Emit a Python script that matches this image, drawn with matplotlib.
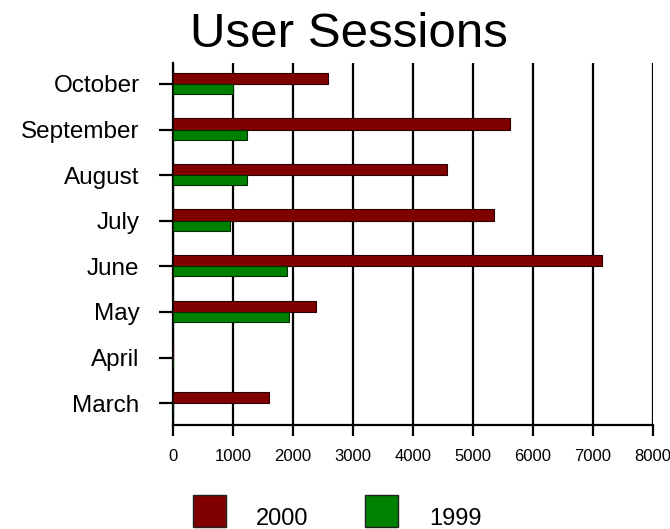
import matplotlib.pyplot as plt
import matplotlib.transforms as mtransforms
from matplotlib.patches import Rectangle
import numpy as np

# data
months = ["March", "April", "May", "June", "July", "August", "September", "October"]
sessions_2000 = [1600, 0, 2380, 7150, 5350, 4570, 5620, 2580]
sessions_1999 = [0, 0, 1930, 1900, 950, 1230, 1230, 1000]
xticks = [0, 1000, 2000, 3000, 4000, 5000, 6000, 7000, 8000]

red = "#800000"
green = "#008000"

plt.rcParams["font.family"] = ["Liberation Sans", "DejaVu Sans"]

fig = plt.figure(figsize=(6.7, 5.29), dpi=100)
ax = fig.add_axes([173 / 670, 1 - 425 / 529, (653 - 173) / 670, (425 - 63) / 529])

y = np.arange(len(months))
h_red = 0.25
h_green = 0.22
ax.barh(y + h_red / 2, sessions_2000, height=h_red, color=red,
        edgecolor="#2a0000", linewidth=0.8, zorder=3)
ax.barh(y - h_green / 2, sessions_1999, height=h_green, color=green,
        edgecolor="#002a00", linewidth=0.8, zorder=3)

ax.set_xlim(0, 8000)
ax.set_ylim(-0.48, 7.46)
ax.set_xticks(xticks)
ax.set_xticklabels([str(v) for v in xticks], fontsize=12)
ax.set_yticks(y)
ax.set_yticklabels(months, fontsize=17.5)

# month labels sit a little below their tick in the original
shift = mtransforms.ScaledTranslation(0, -0.045, fig.dpi_scale_trans)
for lab in ax.get_yticklabels():
    lab.set_transform(lab.get_transform() + shift)

ax.grid(axis="x", color="black", linewidth=1.6, zorder=0)
ax.set_axisbelow(True)
ax.spines["top"].set_visible(False)
ax.spines["right"].set_visible(False)
ax.spines["left"].set_linewidth(1.6)
ax.spines["bottom"].set_linewidth(1.6)
ax.tick_params(axis="x", length=8, width=1.6, pad=9)
ax.tick_params(axis="y", length=10, width=1.6, pad=14)

fig.text(349 / 670, 1 - 47 / 529, "User Sessions", ha="center", va="baseline",
         fontsize=35.5)

# legend drawn by hand at the bottom
for x0, col, lab, tx in [(193, red, "2000", 256), (365, green, "1999", 429)]:
    fig.patches.append(Rectangle((x0 / 670, 1 - 527 / 529), 33 / 670, 32 / 529,
                                 transform=fig.transFigure, facecolor=col,
                                 edgecolor="#202020", linewidth=1))
    fig.text(tx / 670, 1 - 525 / 529, lab, ha="left", va="baseline", fontsize=17)

plt.savefig("out.png", dpi=100)
